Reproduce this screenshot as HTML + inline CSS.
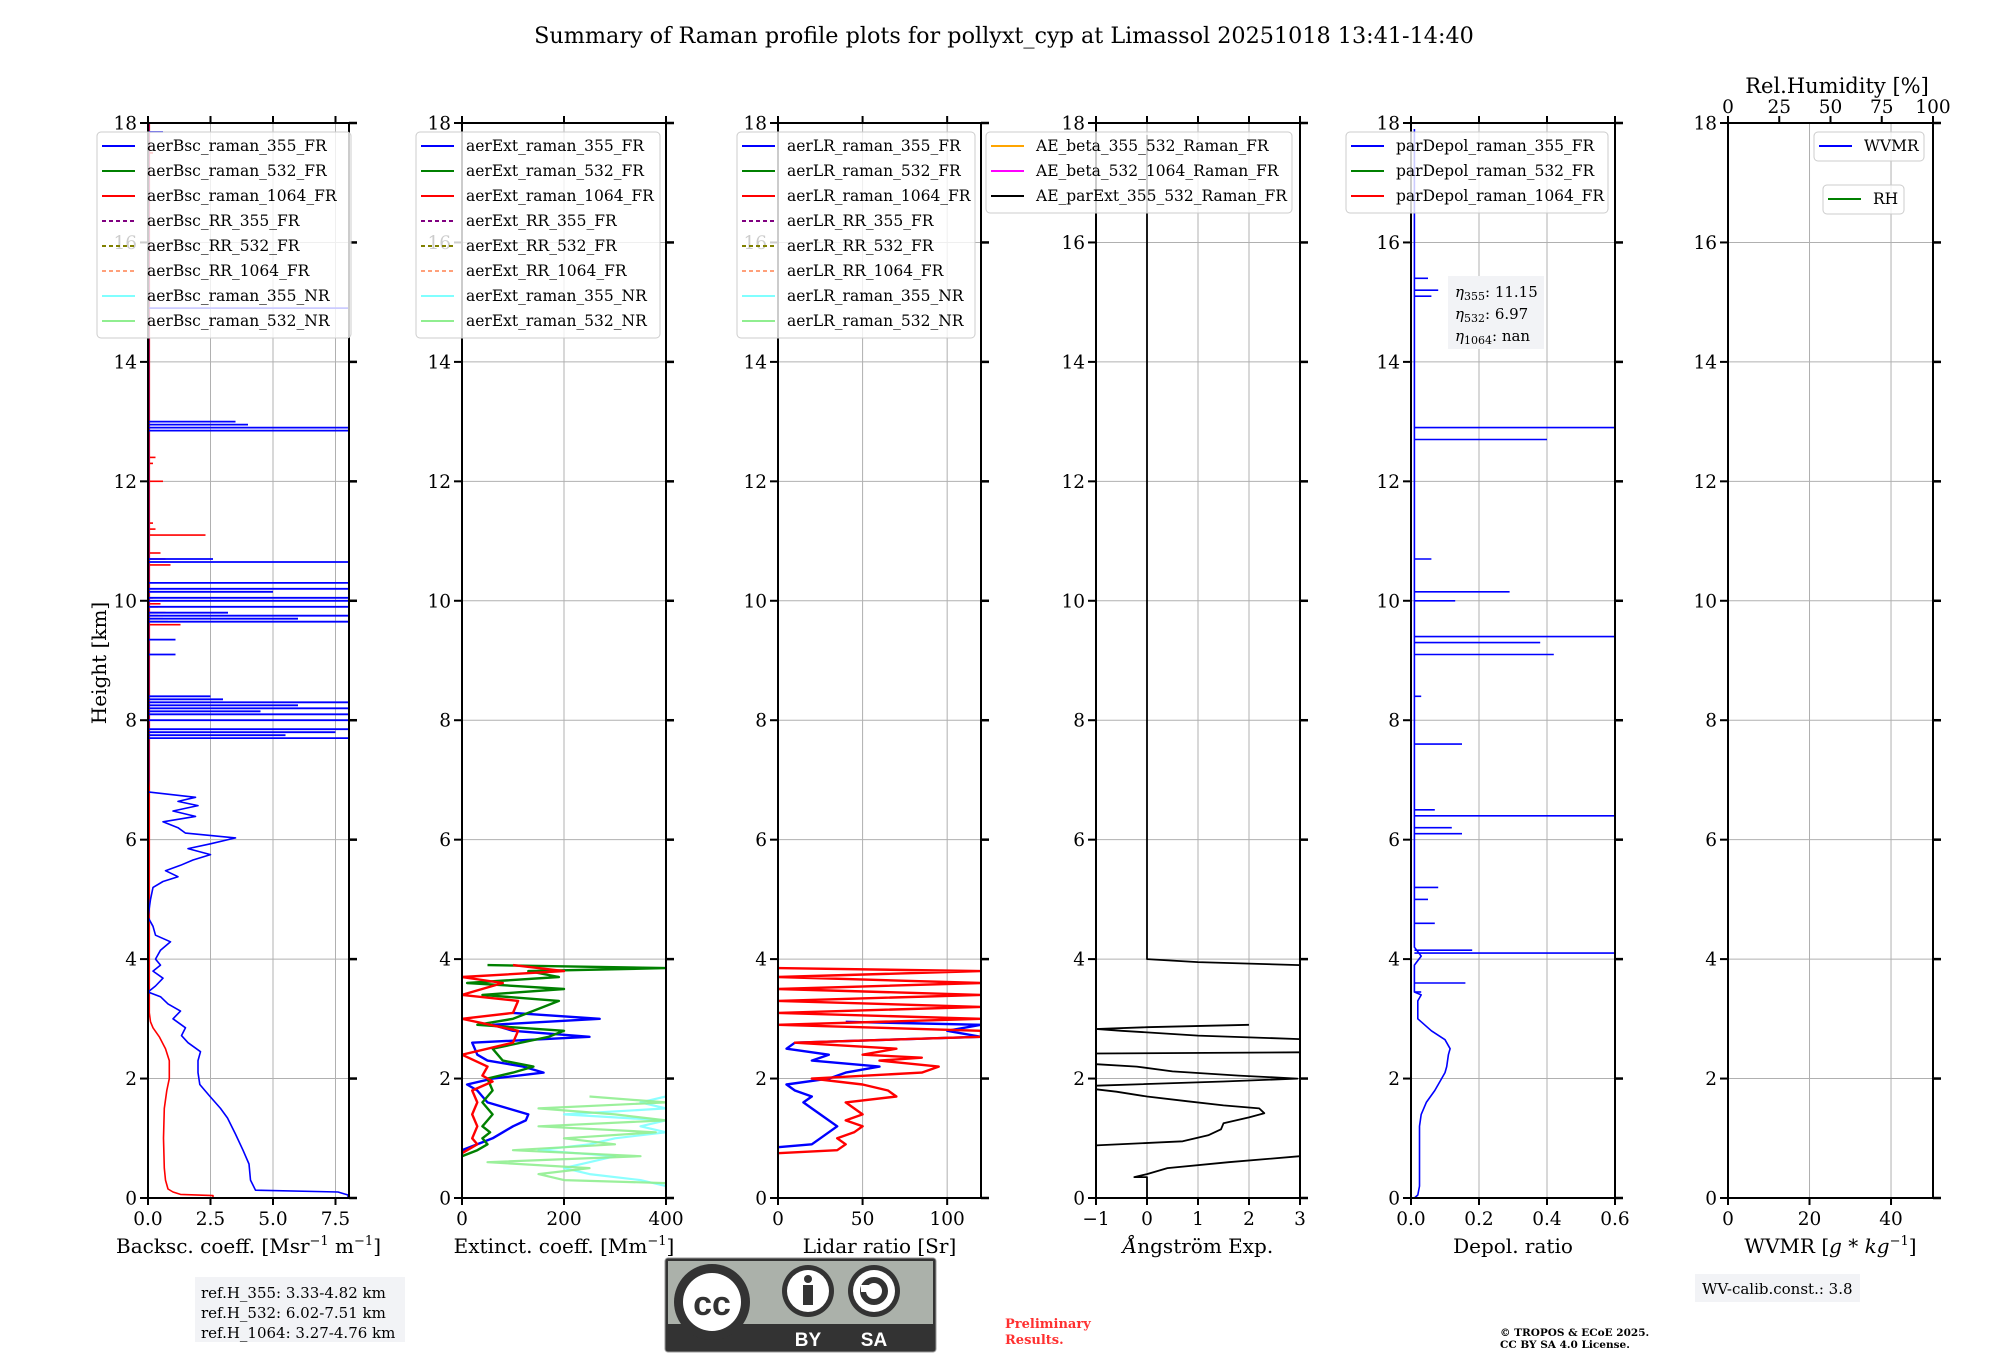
<!DOCTYPE html>
<html><head><meta charset="utf-8"><style>
html,body{margin:0;padding:0;background:#fff;}
svg{display:block;font-family:"DejaVu Serif","Liberation Serif",serif;}
</style></head><body>
<svg id="fig" width="2000" height="1360" viewBox="0 0 2000 1360" xmlns="http://www.w3.org/2000/svg">
<text x="1004" y="43" font-size="22.3" text-anchor="middle">Summary of Raman profile plots for pollyxt_cyp at Limassol 20251018 13:41-14:40</text>
<text transform="translate(106,663) rotate(-90)" font-size="20" text-anchor="middle">Height [km]</text>
<g id="panels"></g>
<g>
<rect x="195" y="1277" width="210" height="65" fill="#f2f3f6"/>
<text x="201" y="1298" font-size="15">ref.H_355: 3.33-4.82 km</text>
<text x="201" y="1318" font-size="15">ref.H_532: 6.02-7.51 km</text>
<text x="201" y="1338" font-size="15">ref.H_1064: 3.27-4.76 km</text>
</g>
<g>
<rect x="665" y="1258" width="271" height="94" rx="3" fill="#333" stroke="#999" stroke-width="1"/>
<rect x="668" y="1261" width="265" height="63" fill="#abb1aa"/>
<circle cx="712" cy="1302" r="38" fill="#333"/>
<circle cx="712" cy="1302" r="29" fill="#fff"/>
<text x="712" y="1315" font-family="Liberation Sans,sans-serif" font-weight="bold" font-size="34" text-anchor="middle" fill="#333">cc</text>
<circle cx="808" cy="1291" r="26" fill="#333"/><circle cx="808" cy="1291" r="21" fill="#fff"/>
<circle cx="808" cy="1279" r="4" fill="#333"/><rect x="803" y="1285" width="10" height="20" fill="#333"/>
<circle cx="874" cy="1291" r="26" fill="#333"/><circle cx="874" cy="1291" r="21" fill="#fff"/>
<circle cx="874" cy="1291" r="11" fill="none" stroke="#333" stroke-width="6"/>
<rect x="861" y="1285" width="8" height="7" fill="#fff"/>
<text x="808" y="1346" font-family="Liberation Sans,sans-serif" font-weight="bold" font-size="19" text-anchor="middle" fill="#fff">BY</text>
<text x="874" y="1346" font-family="Liberation Sans,sans-serif" font-weight="bold" font-size="19" text-anchor="middle" fill="#fff">SA</text>
</g>
<text x="1005" y="1328" font-size="13" font-weight="bold" fill="#ff3030">Preliminary</text>
<text x="1005" y="1344" font-size="13" font-weight="bold" fill="#ff3030">Results.</text>
<text x="1500" y="1336" font-size="10.5" font-weight="bold">© TROPOS &amp; ECoE 2025.</text>
<text x="1500" y="1348" font-size="10.5" font-weight="bold">CC BY SA 4.0 License.</text>
<g>
<rect x="1695" y="1274" width="165" height="28" fill="#f2f3f6"/>
<text x="1702" y="1294" font-size="15">WV-calib.const.: 3.8</text>
</g>
<g>
<rect x="1448" y="276" width="96" height="73" fill="#f2f3f6"/>
<text x="1455" y="297" font-size="15"><tspan font-style="italic">η</tspan><tspan font-size="11" dy="3">355</tspan><tspan dy="-3">: 11.15</tspan></text>
<text x="1455" y="319" font-size="15"><tspan font-style="italic">η</tspan><tspan font-size="11" dy="3">532</tspan><tspan dy="-3">: 6.97</tspan></text>
<text x="1455" y="341" font-size="15"><tspan font-style="italic">η</tspan><tspan font-size="11" dy="3">1064</tspan><tspan dy="-3">: nan</tspan></text>
</g>
</svg>
<script>
// ---------- data ----------
const heightTicks = [0,2,4,6,8,10,12,14,16,18];
// backscatter
const bsc355H = [0,0.05,0.1,0.13,0.3,0.57,0.8,1.07,1.34,1.5,1.71,1.9,2.1,2.3,2.45,2.6,2.72,2.85,3.0,3.13,3.25,3.37,3.45,3.55,3.68,3.8,3.9,4.0,4.15,4.29,4.4,4.55,4.7,5.0,5.2,5.3,5.38,5.48,5.57,5.66,5.75,5.85,5.93,6.03,6.11,6.2,6.3,6.39,6.48,6.57,6.64,6.71,6.8,7.0,18];
const bsc355V = [8,8,7.6,4.3,4.1,4.04,3.8,3.5,3.18,2.9,2.46,2.07,2.0,2.0,2.1,1.6,1.34,1.5,1.0,1.3,0.8,0.5,0,0.3,0.6,0.2,0.5,0.3,0.5,0.9,0.3,0.2,0,0.1,0.2,0.6,1.2,0.7,1.3,1.8,2.5,1.6,2.5,3.5,1.5,1.2,0.6,1.9,1.0,2.0,1.2,1.9,0,0.02,0.02];
const bsc355SpikeH = [7.7,7.75,7.8,7.85,8.0,8.1,8.15,8.2,8.25,8.3,8.35,8.4,9.1,9.35,9.65,9.7,9.75,9.8,9.9,10.0,10.05,10.15,10.2,10.3,10.65,10.7,12.85,12.9,12.95,13.0,14.9,17.85];
const bsc355SpikeV = [8,5.5,7.5,8,8,8,4.5,8,6,8,3.0,2.5,1.1,1.1,8,6,8,3.2,8,8,8,5,8,8,8,2.6,8,8,4.0,3.5,8,0.6];
const bsc1064H = [0,0.04,0.06,0.1,0.15,0.3,0.5,1.0,1.5,1.8,2.0,2.3,2.5,2.7,2.85,2.95,3.1,3.5,9.4,18];
const bsc1064V = [2.6,2.6,1.3,1.0,0.8,0.7,0.65,0.62,0.65,0.75,0.85,0.85,0.7,0.45,0.2,0.1,0.05,0.05,0.05,0.05];
const bsc1064SpikeH = [9.6,9.65,9.7,9.75,9.8,9.9,9.95,10.0,10.05,10.6,10.7,10.8,11.1,11.2,11.3,12.0,12.3,12.4,17.5];
const bsc1064SpikeV = [1.3,0.8,0.6,0.4,0.7,0.4,0.5,0.3,0.2,0.9,0.7,0.5,2.3,0.3,0.2,0.6,0.2,0.3,0.2];
// extinction
const ext355H = [0.8,0.9,1.0,1.1,1.2,1.3,1.4,1.5,1.6,1.7,1.8,1.9,2.0,2.1,2.2,2.3,2.4,2.6,2.7,2.8,2.9,3.0,3.1];
const ext355V = [0,30,60,80,100,125,130,90,50,40,30,10,60,160,120,50,30,20,250,100,60,270,100];
const ext532H = [0.7,0.8,0.9,1.0,1.1,1.2,1.3,1.4,1.6,1.8,2.0,2.1,2.2,2.3,2.5,2.7,2.8,2.9,3.0,3.3,3.4,3.5,3.6,3.7,3.8,3.85,3.9];
const ext532V = [0,30,50,40,55,40,50,60,40,60,50,100,140,80,60,170,200,30,100,190,40,200,10,190,130,400,50];
const ext1064H = [0.75,0.9,1.0,1.2,1.4,1.6,1.8,1.95,2.05,2.2,2.4,2.6,2.8,3.0,3.1,3.3,3.4,3.6,3.7,3.8,3.9];
const ext1064V = [0,30,20,30,20,30,20,60,40,50,0,100,110,0,100,110,0,80,0,200,100];
const ext355nrH = [0.2,0.3,0.4,0.5,0.6,0.7,0.8,0.9,1.0,1.1,1.2,1.3,1.4,1.5,1.6,1.7,1.8];
const ext355nrV = [400,350,250,200,250,300,150,250,300,400,350,400,200,400,350,400,400];
const ext532nrH = [0.15,0.25,0.3,0.4,0.5,0.6,0.7,0.8,0.9,1.0,1.1,1.2,1.3,1.4,1.5,1.6,1.7];
const ext532nrV = [400,400,200,150,250,50,350,100,300,200,380,150,400,300,150,400,250];
// lidar ratio
const lr355H = [0.85,0.9,1.0,1.2,1.4,1.5,1.6,1.7,1.8,1.9,2.0,2.1,2.2,2.3,2.4,2.5,2.6,2.7,2.8,2.9,2.95];
const lr355V = [0,20,25,35,25,20,15,20,10,5,30,40,60,20,30,5,10,120,100,120,40];
const lr1064H = [0.75,0.8,0.9,1.0,1.1,1.2,1.3,1.4,1.6,1.7,1.8,1.9,2.0,2.1,2.2,2.3,2.35,2.4,2.5,2.6,2.7,2.8,2.9,3.0,3.1,3.2,3.3,3.4,3.5,3.6,3.7,3.8,3.85];
const lr1064V = [0,35,40,35,45,50,40,50,40,70,65,50,20,85,95,60,85,50,70,10,120,120,0,120,0,120,0,120,0,120,0,120,0];
// Angstrom exponent
const aeH = [0,0.35,0.35,0.4,0.5,0.6,0.7,null,0.88,0.95,1.05,1.15,1.25,1.35,1.42,1.5,1.55,1.62,1.7,1.78,1.82,null,1.88,1.95,2.0,2.05,2.12,2.2,2.24,null,2.42,2.44,null,2.66,2.72,2.8,2.83,2.86,2.9,null,3.9,3.95,4.0,17.8];
const aeV = [0,0,-0.25,0,0.4,1.6,3,null,-1,0.7,1.2,1.45,1.5,2.0,2.3,2.2,1.5,0.8,0,-0.6,-1,null,-1,1.5,2.95,1.8,0.5,-0.2,-1,null,-1,3,null,3,1.0,-0.5,-1,0,2.0,null,3,1,0,0];
// depolarization
const dep355H = [0,0.05,0.2,1.2,1.4,1.6,1.8,2.0,2.1,2.2,2.4,2.5,2.6,2.65,2.8,2.95,3.0,3.3,3.4,3.45,3.6,3.9,4.05,4.2,6,8,10,12,14,16,17.9];
const dep355V = [0.01,0.02,0.025,0.025,0.03,0.045,0.07,0.09,0.1,0.105,0.11,0.115,0.105,0.1,0.06,0.03,0.02,0.02,0.03,0.01,0.01,0.01,0.03,0.01,0.01,0.01,0.01,0.01,0.01,0.01,0.01];
const dep355SpikeH = [3.45,3.6,4.1,4.15,4.6,5.0,5.2,6.1,6.2,6.4,6.5,7.6,8.4,9.1,9.3,9.4,10.0,10.15,10.7,12.7,12.9,15.1,15.2,15.4];
const dep355SpikeV = [0.03,0.16,0.6,0.18,0.07,0.05,0.08,0.15,0.12,0.6,0.07,0.15,0.03,0.42,0.38,0.6,0.13,0.29,0.06,0.4,0.6,0.06,0.08,0.05];
// x ticks
const bscTicks = [0,2.5,5,7.5], bscTickLabels = ["0.0","2.5","5.0","7.5"];
const extTicks = [0,200,400], extTickLabels = ["0","200","400"];
const lrTicks = [0,50,100], lrTickLabels = ["0","50","100"];
const aeTicks = [-1,0,1,2,3], aeTickLabels = ["\u22121","0","1","2","3"];
const depTicks = [0,0.2,0.4,0.6], depTickLabels = ["0.0","0.2","0.4","0.6"];
const wvTicks = [0,20,40], wvTickLabels = ["0","20","40"];
const rhTicks = [0,25,50,75,100], rhTickLabels = ["0","25","50","75","100"];

// ---------- drawing ----------
const NS = "http://www.w3.org/2000/svg";
const root = document.getElementById('panels');
const TOP = 123, BOT = 1198, HMAX = 18;
function yOf(h){ return BOT - h/HMAX*(BOT-TOP); }
function mk(tag, attrs, parent){ const e=document.createElementNS(NS,tag); for(const k in attrs) e.setAttribute(k,attrs[k]); parent.appendChild(e); return e; }

const panels = [
 {id:'bsc', l:148, r:349, x0:0, x1:8.04, ticks:bscTicks, labels:bscTickLabels, xlabel:'Backsc. coeff.'},
 {id:'ext', l:462, r:666, x0:0, x1:400, ticks:extTicks, labels:extTickLabels, xlabel:'Extinct. coeff.'},
 {id:'lr', l:778, r:981, x0:0, x1:120, ticks:lrTicks, labels:lrTickLabels, xlabel:'Lidar ratio [Sr]'},
 {id:'ae', l:1096, r:1300, x0:-1, x1:3, ticks:aeTicks, labels:aeTickLabels, xlabel:'Angstrom Exp.'},
 {id:'dep', l:1411, r:1615, x0:0, x1:0.6, ticks:depTicks, labels:depTickLabels, xlabel:'Depol. ratio'},
 {id:'wv', l:1728, r:1933, x0:0, x1:50.3, ticks:wvTicks, labels:wvTickLabels, xlabel:'WVMR'}
];
function xf(p){ return v => p.l + (v-p.x0)/(p.x1-p.x0)*(p.r-p.l); }

function drawLine(g,p,H,V,color,w,op){
  const X=xf(p); let d='', pen=false;
  for(let i=0;i<H.length;i++){
    if(H[i]===null){pen=false;continue;}
    d += (pen?'L':'M') + X(V[i]).toFixed(1)+' '+yOf(H[i]).toFixed(1)+' '; pen=true;
  }
  const e=mk('path',{d:d,fill:'none',stroke:color,'stroke-width':w,'stroke-linejoin':'round','clip-path':'url(#clip-'+p.id+')'},g);
  if(op) e.setAttribute('stroke-opacity',op);
  
  
}
function drawSpikes(g,p,H,V,base,color,w){
  const X=xf(p);
  for(let i=0;i<H.length;i++){
    const y=yOf(H[i]);
    const e=mk('path',{d:'M'+X(base).toFixed(1)+' '+y.toFixed(1)+'L'+X(V[i]).toFixed(1)+' '+y.toFixed(1),stroke:color,'stroke-width':w,fill:'none','clip-path':'url(#clip-'+p.id+')'},g);
    
    
  }
}
const defs = mk('defs',{},root);
panels.forEach(p=>{
  const cp=mk('clipPath',{id:'clip-'+p.id},defs);
  mk('rect',{x:p.l,y:TOP,width:p.r-p.l,height:BOT-TOP},cp);
  const g=mk('g',{},root);
  
  
  p.g=g;
  const X=xf(p);
  heightTicks.forEach(h=>{ const y=yOf(h); mk('line',{x1:p.l,x2:p.r,y1:y,y2:y,stroke:'#b0b0b0','stroke-width':1},g); });
  p.ticks.forEach(t=>{ const x=X(t); mk('line',{x1:x,x2:x,y1:TOP,y2:BOT,stroke:'#b0b0b0','stroke-width':1},g); });
});
let P=panels[0];
drawLine(P.g,P,bsc1064H,bsc1064V,'#ff0000',1.6);
drawSpikes(P.g,P,bsc1064SpikeH,bsc1064SpikeV,0.05,'#ff0000',1.6);
drawLine(P.g,P,bsc355H,bsc355V,'#0000ff',1.6);
drawSpikes(P.g,P,bsc355SpikeH,bsc355SpikeV,0.02,'#0000ff',1.8);
P=panels[1];
drawLine(P.g,P,ext355nrH,ext355nrV,'#80ffff',2.2,0.9);
drawLine(P.g,P,ext532nrH,ext532nrV,'#90ee90',2.2,0.9);
drawLine(P.g,P,ext355H,ext355V,'#0000ff',2.4);
drawLine(P.g,P,ext532H,ext532V,'#008000',2.4);
drawLine(P.g,P,ext1064H,ext1064V,'#ff0000',2.4);
P=panels[2];
drawLine(P.g,P,lr355H,lr355V,'#0000ff',2.4);
drawLine(P.g,P,lr1064H,lr1064V,'#ff0000',2.4);
P=panels[3];
drawLine(P.g,P,aeH,aeV,'#000000',1.8);
P=panels[4];
drawLine(P.g,P,dep355H,dep355V,'#0000ff',1.6);
drawSpikes(P.g,P,dep355SpikeH,dep355SpikeV,0.01,'#0000ff',1.6);

panels.forEach(p=>{
  const g=p.g, X=xf(p);
  mk('rect',{x:p.l,y:TOP,width:p.r-p.l,height:BOT-TOP,fill:'none',stroke:'#000','stroke-width':2},g);
  heightTicks.forEach(h=>{ const y=yOf(h);
    mk('line',{x1:p.l-8,x2:p.l,y1:y,y2:y,stroke:'#000','stroke-width':2},g);
    mk('line',{x1:p.r,x2:p.r+8,y1:y,y2:y,stroke:'#000','stroke-width':2.5},g);
    const t=mk('text',{x:p.l-11,y:y+6.5,'font-size':18.5,'text-anchor':'end'},g); t.textContent=h;
    
    
  });
  p.ticks.forEach((tv,i)=>{ const x=X(tv);
    mk('line',{x1:x,x2:x,y1:BOT,y2:BOT+7,stroke:'#000','stroke-width':2},g);
    if(p.id!=='wv') mk('line',{x1:x,x2:x,y1:TOP-7,y2:TOP,stroke:'#000','stroke-width':2},g);
    const t=mk('text',{x:x,y:BOT+27,'font-size':18.5,'text-anchor':'middle'},g); t.textContent=p.labels[i];
    
    
  });
  const cx=(p.l+p.r)/2;
  const xl=mk('text',{x:cx,y:1253,'font-size':20,'text-anchor':'middle'},g);
  
  
  if(p.id==='ae'){ xl.innerHTML='<tspan font-style="italic">\u00C5</tspan>ngstr\u00F6m Exp.'; }
  else if(p.id==='wv'){ xl.innerHTML='WVMR [<tspan font-style="italic">g</tspan> * <tspan font-style="italic">kg</tspan><tspan font-size="13" dy="-8">\u22121</tspan><tspan dy="8">]</tspan>'; }
  else if(p.id==='bsc'){ xl.innerHTML='Backsc. coeff. [Msr<tspan font-size="13" dy="-8">\u22121</tspan><tspan dy="8"> m</tspan><tspan font-size="13" dy="-8">\u22121</tspan><tspan dy="8">]</tspan>'; }
  else if(p.id==='ext'){ xl.innerHTML='Extinct. coeff. [Mm<tspan font-size="13" dy="-8">\u22121</tspan><tspan dy="8">]</tspan>'; }
  else xl.textContent=p.xlabel;
});
(function(){
  const p=panels[5], g=p.g;
  rhTicks.forEach((tv,i)=>{ const x=p.l+tv/100*(p.r-p.l);
    mk('line',{x1:x,x2:x,y1:TOP-7,y2:TOP,stroke:'#000','stroke-width':2},g);
    const t=mk('text',{x:x,y:TOP-10,'font-size':18.5,'text-anchor':'middle'},g); t.textContent=rhTickLabels[i];
    
    
  });
  const t=mk('text',{x:1837,y:93,'font-size':21,'text-anchor':'middle'},g); t.textContent='Rel.Humidity [%]';
  
  
})();

function legend(x,y,w,entries,rowH){
  const g=mk('g',{},root);
  
  
  mk('rect',{x:x,y:y,width:w,height:entries.length*rowH+6,rx:4,fill:'#fff','fill-opacity':0.8,stroke:'#ccc','stroke-width':1},g);
  entries.forEach((en,i)=>{
    const cy=y+14+i*rowH;
    const ln=mk('line',{x1:x+5,x2:x+38,y1:cy,y2:cy,stroke:en[1],'stroke-width':2},g);
    if(en[2]) ln.setAttribute('stroke-dasharray','4,3');
    const t=mk('text',{x:x+50,y:cy+5,'font-size':15.5},g); t.textContent=en[0];
    
    
  });
}
function eight(pre){ return [[pre+'raman_355_FR','#0000ff'],[pre+'raman_532_FR','#008000'],[pre+'raman_1064_FR','#ff0000'],[pre+'RR_355_FR','#800080',1],[pre+'RR_532_FR','#808000',1],[pre+'RR_1064_FR','#ffa07a',1],[pre+'raman_355_NR','#80ffff'],[pre+'raman_532_NR','#90ee90']]; }
legend(97,132,254,eight('aerBsc_'),25);
legend(416,132,244,eight('aerExt_'),25);
legend(737,132,238,eight('aerLR_'),25);
legend(986,132,306,[['AE_beta_355_532_Raman_FR','#ffa500'],['AE_beta_532_1064_Raman_FR','#ff00ff'],['AE_parExt_355_532_Raman_FR','#000000']],25);
legend(1346,132,262,[['parDepol_raman_355_FR','#0000ff'],['parDepol_raman_532_FR','#008000'],['parDepol_raman_1064_FR','#ff0000']],25);
legend(1814,132,110,[['WVMR','#0000ff']],23);
legend(1823,185,81,[['RH','#008000']],23);
</script>
</body></html>
